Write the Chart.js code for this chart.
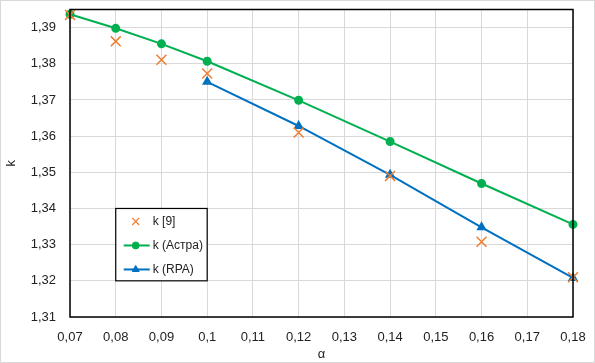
<!DOCTYPE html>
<html>
<head>
<meta charset="utf-8">
<script src="https://cdn.jsdelivr.net/npm/chart.js@4"></script>
<style>
  html, body { margin: 0; padding: 0; background: #fff; }
  #wrap { position: relative; width: 595px; height: 363px; box-sizing: border-box; border: 1px solid #d9d9d9; }
</style>
</head>
<body>
<div id="wrap"><canvas id="kChart" width="593" height="361"></canvas></div>
<script>
// alpha values (x axis)
const alphaRef = [0.07, 0.08, 0.09, 0.1, 0.12, 0.14, 0.16, 0.18];
const kRef = [1.3935, 1.3862, 1.3811, 1.3773, 1.3610, 1.3490, 1.3308, 1.3210];

const alphaAstra = [0.07, 0.08, 0.09, 0.1, 0.12, 0.14, 0.16, 0.18];
const kAstra = [1.3937, 1.3898, 1.3855, 1.3807, 1.3699, 1.3585, 1.3469, 1.3356];

const alphaRpa = [0.1, 0.12, 0.14, 0.16, 0.18];
const kRpa = [1.3750, 1.3628, 1.3493, 1.3348, 1.3208];

const seriesNames = ["k [9]", "k (Астра)", "k (RPA)"];
const xTicks = [0.07, 0.18, 0.01];
const yTicks = [1.31, 1.395, 0.01];

const FONT = "'Liberation Sans', Arial, sans-serif";

function toPoints(xs, ys) {
    return xs.map((x, i) => ({ x: x, y: ys[i] }));
}

function fmt(v) {
    return String(Number(v.toFixed(3))).replace(".", ",");
}

// legend drawn inside the plot area, like the Excel original
const innerLegend = {
    id: "innerLegend",
    afterDraw(chart) {
        const ctx = chart.ctx;
        const x0 = chart.scales.x.getPixelForValue(0.08);
        const x1 = chart.scales.x.getPixelForValue(0.1);
        const y0 = chart.scales.y.getPixelForValue(1.34);
        const y1 = chart.scales.y.getPixelForValue(1.32);
        ctx.save();
        ctx.fillStyle = "#fff";
        ctx.fillRect(x0, y0, x1 - x0, y1 - y0);
        ctx.strokeStyle = "#000";
        ctx.lineWidth = 1.2;
        ctx.strokeRect(x0, y0, x1 - x0, y1 - y0);
        ctx.font = "12px " + FONT;
        ctx.textBaseline = "middle";
        const rows = [y0 + 13, y0 + 37, y0 + 61];
        chart.data.datasets.forEach((ds, i) => {
            const cy = rows[i];
            const cx = x0 + 20;
            if (ds.showLine) {
                ctx.strokeStyle = ds.borderColor;
                ctx.lineWidth = 2;
                ctx.beginPath();
                ctx.moveTo(x0 + 8, cy);
                ctx.lineTo(x0 + 34, cy);
                ctx.stroke();
            }
            ctx.strokeStyle = ds.borderColor;
            ctx.fillStyle = ds.backgroundColor;
            ctx.lineWidth = i === 0 ? 1.2 : 1;
            Chart.helpers.drawPoint(ctx, {
                pointStyle: ds.pointStyle,
                radius: i === 0 ? 5 : ds.pointRadius,
                borderWidth: i === 0 ? 1.2 : 1,
                rotation: 0
            }, cx, cy);
            ctx.fillStyle = "#222";
            ctx.fillText(ds.label, x0 + 37, cy);
        });
        ctx.restore();
    }
};

// plot area border
const plotBorder = {
    id: "plotBorder",
    afterDatasetsDraw(chart) {
        const a = chart.chartArea;
        const ctx = chart.ctx;
        ctx.save();
        ctx.strokeStyle = "#000";
        ctx.lineWidth = 1.5;
        ctx.strokeRect(a.left, a.top, a.right - a.left, a.bottom - a.top);
        ctx.restore();
    }
};

const ctx = document.getElementById("kChart").getContext("2d");

new Chart(ctx, {
    type: "scatter",
    data: {
        datasets: [
            {
                label: seriesNames[0],
                data: toPoints(alphaRef, kRef),
                showLine: false,
                pointStyle: "crossRot",
                pointRadius: 7,
                pointBorderWidth: 1.5,
                borderColor: "#ED7D31",
                backgroundColor: "#ED7D31",
                order: 1,
            },
            {
                label: seriesNames[1],
                data: toPoints(alphaAstra, kAstra),
                showLine: true,
                pointStyle: "circle",
                pointRadius: 3.5,
                borderWidth: 2,
                borderColor: "#00B050",
                backgroundColor: "#00B050",
                order: 2,
            },
            {
                label: seriesNames[2],
                data: toPoints(alphaRpa, kRpa),
                showLine: true,
                pointStyle: "triangle",
                pointRadius: 4,
                borderWidth: 2,
                borderColor: "#0070C0",
                backgroundColor: "#0070C0",
                order: 3,
            },
        ],
    },
    options: {
        responsive: false,
        animation: false,
        clip: false,
        layout: { padding: { top: 7, right: 21, left: 0, bottom: 0 } },
        plugins: {
            legend: { display: false },
            tooltip: { enabled: false },
        },
        scales: {
            x: {
                type: "linear",
                min: xTicks[0],
                max: xTicks[1],
                afterFit: (s) => { s.height = 45; s.paddingLeft = 0; s.paddingRight = 0; },
                ticks: {
                    stepSize: xTicks[2],
                    padding: 13,
                    color: "#222",
                    font: { family: FONT, size: 13 },
                    callback: (v) => fmt(v),
                },
                grid: { color: "#d9d9d9", lineWidth: 1, drawTicks: false },
                border: { display: false },
                title: {
                    display: true,
                    text: "α",
                    color: "#222",
                    font: { family: FONT, size: 13 },
                    padding: { top: 0, bottom: 0 },
                },
            },
            y: {
                type: "linear",
                min: yTicks[0],
                max: yTicks[1],
                afterFit: (s) => { s.width = 69; s.paddingTop = 0; s.paddingBottom = 0; },
                ticks: {
                    stepSize: yTicks[2],
                    padding: 14,
                    color: "#222",
                    font: { family: FONT, size: 13 },
                    callback: (v) => (Math.abs(v * 100 - Math.round(v * 100)) < 1e-6 ? fmt(v) : ""),
                },
                grid: { color: "#d9d9d9", lineWidth: 1, drawTicks: false },
                border: { display: false },
                title: {
                    display: true,
                    text: "k",
                    color: "#222",
                    font: { family: FONT, size: 13 },
                    padding: { top: 3, bottom: 0 },
                },
            },
        },
    },
    plugins: [plotBorder, innerLegend],
});
</script>
</body>
</html>
